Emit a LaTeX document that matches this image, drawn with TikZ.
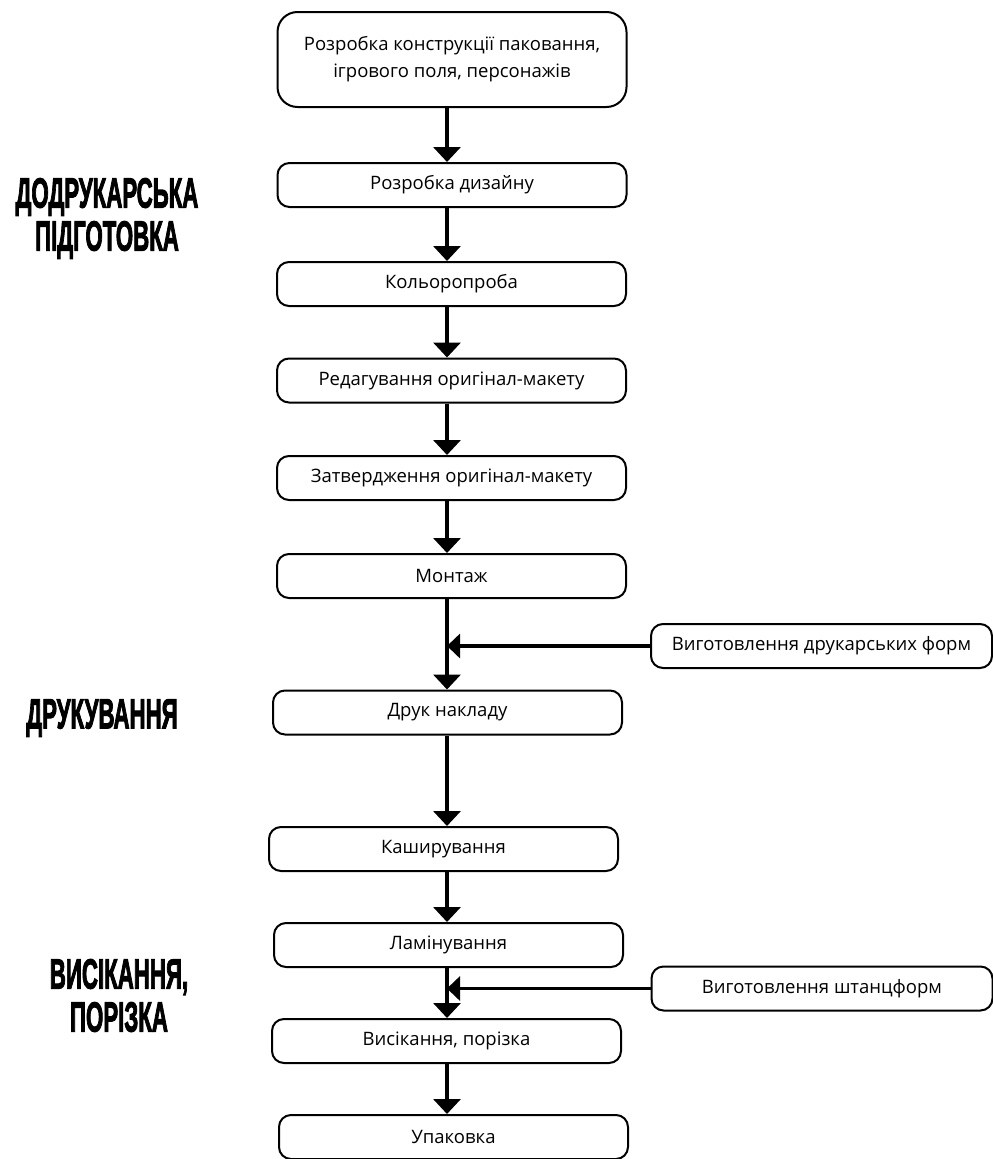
\documentclass[tikz,border=0pt]{standalone}
\usepackage{fontspec}
\setmainfont{Open Sans}
\newfontfamily\headfont[FakeBold=3]{Liberation Sans}
\usetikzlibrary{arrows.meta}
\newcommand{\squeeze}[1]{\scalebox{0.53}[1]{#1}}

\begin{document}
\begin{tikzpicture}
[x=1pt, y=-1pt, every node/.style={inner sep=0pt},
 stage/.style={rectangle, rounded corners=12pt, minimum width=349pt, minimum height=44pt, line width=2pt, draw=black, font=\fontsize{18.5}{27}\selectfont},
 sidestage/.style={stage, minimum width=341pt},
 phase/.style={align=center, font=\headfont\bfseries\fontsize{42}{43}\selectfont},
 flow/.style={line width=3.5pt, -{Triangle[width=27pt, length=15pt]}},
 feed/.style={line width=3.5pt, -{Triangle[width=24pt, length=13pt]}}]
\useasboundingbox (0,0) rectangle (993,1159);
\coordinate (spine) at (447,0);
\node (1) [stage, minimum height=95pt, rounded corners=20pt, align=center] at (452, 59.5) {Розробка конструкції паковання,\\ігрового поля, персонажів};
\node (2) [stage] at (452, 185) {Розробка дизайну};
\node (3) [stage] at (451.5, 284) {Кольоропроба};
\node (4) [stage] at (451.5, 380.5) {Редагування оригінал-макету};
\node (5) [stage] at (451.5, 478) {Затвердження оригінал-макету};
\node (6) [stage] at (451.5, 576) {Монтаж};
\node (7) [stage] at (447.5, 712.5) {Друк накладу};
\node (8) [stage] at (443.5, 849) {Каширування};
\node (9) [stage] at (448.5, 945) {Ламінування};
\node (10) [stage] at (446.5, 1041) {Висікання, порізка};
\node (11) [stage] at (453.5, 1137) {Упаковка};
\node (s1) [sidestage] at (821.5, 646) {Виготовлення друкарських форм};
\node (s2) [sidestage] at (822, 988.5) {Виготовлення штанцформ};
% phases
\node (prepress) [phase] at (107, 218.5) {\squeeze{ДОДРУКАРСЬКА}\\\squeeze{ПІДГОТОВКА}};
\node (press) [phase] at (102, 718) {\squeeze{ДРУКУВАННЯ}};
\node (cutting) [phase] at (119, 995.5) {\squeeze{ВИСІКАННЯ,}\\\squeeze{ПОРІЗКА}};
% flow
\draw [flow] (1.south -| spine) to (2.north -| spine);
\draw [flow] (2.south -| spine) to (3.north -| spine);
\draw [flow] (3.south -| spine) to (4.north -| spine);
\draw [flow] (4.south -| spine) to (5.north -| spine);
\draw [flow] (5.south -| spine) to (6.north -| spine);
\draw [flow] (6.south -| spine) to (7.north -| spine);
\draw [flow] (7.south -| spine) to (8.north -| spine);
\draw [flow] (8.south -| spine) to (9.north -| spine);
\draw [flow] (9.south -| spine) to (10.north -| spine);
\draw [flow] (10.south -| spine) to (11.north -| spine);
\draw [feed] (s1.west) to (s1.west -| spine);
\draw [feed] (s2.west) to (s2.west -| spine);
\end{tikzpicture}
\end{document}
